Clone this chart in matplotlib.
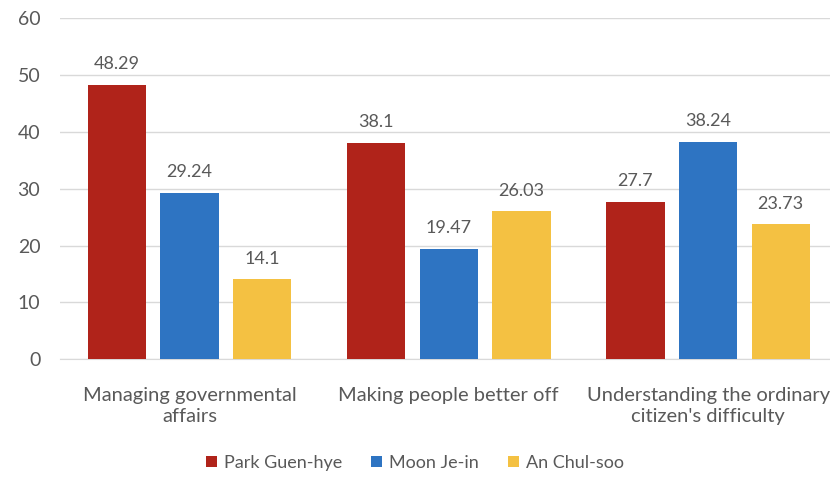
import numpy as np
import matplotlib
matplotlib.use("Agg")
from matplotlib import pyplot as plt

categories = ["Managing governmental\naffairs", "Making people better off",
              "Understanding the ordinary\ncitizen's difficulty"]
series_names = ["Park Guen-hye", "Moon Je-in", "An Chul-soo"]
park = [48.29, 38.1, 27.7]
moon = [29.24, 19.47, 38.24]
an = [14.1, 26.03, 23.73]
labels = [["48.29", "38.1", "27.7"], ["29.24", "19.47", "38.24"], ["14.1", "26.03", "23.73"]]
colors = ["#B0231A", "#2E74C2", "#F4C142"]

plt.rcParams['font.family'] = ['Lato', 'DejaVu Sans']
txt = "#595959"

fig = plt.figure(figsize=(8.3, 4.92), dpi=100)
ax = fig.add_axes([0.072, 0.270, 0.928, 0.693])

x = np.arange(len(categories))
w = 0.225
offs = [-0.28, 0, 0.28]
for k, vals in enumerate([park, moon, an]):
    bars = ax.bar(x + offs[k], vals, w, color=colors[k], label=series_names[k], zorder=3)
    for b, lab in zip(bars, labels[k]):
        ax.text(b.get_x() + b.get_width() / 2, b.get_height() + 2.2, lab,
                ha="center", va="bottom", fontsize=13, color=txt)

ax.set_ylim(0, 60)
ax.set_xlim(-0.5, 2.47)
ax.set_yticks(range(0, 61, 10))
ax.yaxis.grid(True, color="#D9D9D9", linewidth=1, zorder=0)
ax.set_xticks(x)
ax.set_xticklabels(categories, fontsize=14.5, color=txt, linespacing=1.3)
ax.tick_params(axis="y", labelsize=14, labelcolor=txt, length=0, pad=14)
ax.tick_params(axis="x", length=0, pad=20)
for s in ["top", "right", "left"]:
    ax.spines[s].set_visible(False)
ax.spines["bottom"].set_color("#D9D9D9")

fig.legend(loc="lower center", bbox_to_anchor=(0.5, 0.01), ncol=3, frameon=False,
           fontsize=13, handlelength=0.6, handleheight=0.6, columnspacing=1.6,
           handletextpad=0.4, labelcolor=txt)

fig.savefig("out.png", dpi=100)
